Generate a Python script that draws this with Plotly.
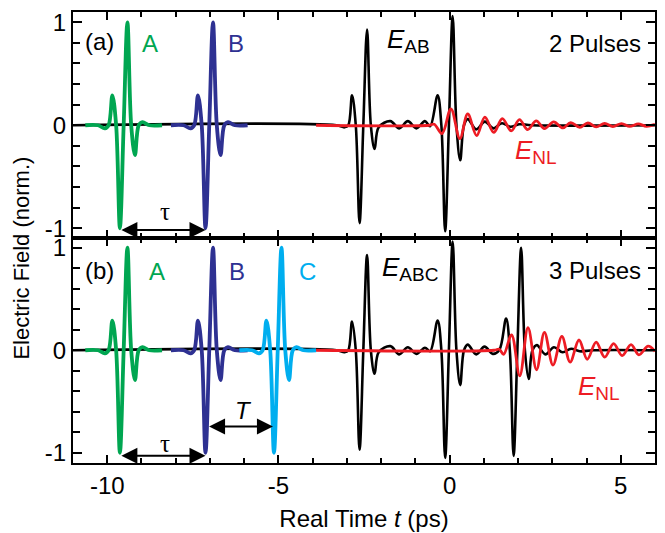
import plotly.graph_objects as go

# ---------------- data ----------------
# single-cycle THz pulse shape: time offsets from pulse centre (ps) and field values
PULSE_DT = [-1.12, -0.75, -0.55, -0.44, -0.33, -0.22, -0.11, 0.0, 0.11, 0.22, 0.33, 0.44, 0.55, 0.75, 1.12]
PULSE_E = [0.0, 0.0, -0.03, 0.0, 0.29, 0.0, -1.0, 0.0, 1.0, 0.0, -0.29, 0.0, 0.03, 0.0, 0.0]
CENTER_A = -9.52
CENTER_B = -7.02
CENTER_C = -5.02

# (a) transmitted field E_AB
EAB_T = [-11.0, -3.3, -3.07, -2.96, -2.85, -2.74, -2.63, -2.52, -2.41, -2.30, -2.19, -2.07,
         -1.73, -1.47, -1.22, -0.97, -0.72, -0.57, -0.35, -0.24, -0.13, -0.02, 0.09, 0.20,
         0.31, 0.42, 0.53, 0.78, 1.03, 1.28, 1.53, 1.78, 2.03, 2.4, 6.0]
EAB_E = [0.0, 0.0, -0.02, 0.0, 0.29, 0.0, -0.95, 0.0, 0.93, 0.0, -0.23, -0.02,
         0.04, -0.03, 0.04, -0.03, 0.04, -0.01, 0.29, 0.0, -1.03, 0.0, 1.06, 0.0,
         -0.34, 0.0, 0.06, -0.04, 0.035, -0.03, 0.02, -0.015, 0.01, 0.0, 0.0]

# (a) nonlinear signal E_NL
ENL2_T = [-3.9, -0.6, -0.45, -0.22, 0.04, 0.30, 0.53, 0.79, 1.03, 1.29, 1.54, 1.80, 2.04, 2.28,
          2.53, 2.77, 3.04, 3.31, 3.54, 3.80, 4.04, 4.28, 4.53, 4.77, 5.02, 5.26, 5.51, 5.75, 6.0]
ENL2_E = [0.0, 0.0, 0.01, -0.08, 0.16, -0.13, 0.11, -0.10, 0.08, -0.07, 0.065, -0.055, 0.055, -0.042,
          0.042, -0.032, 0.032, -0.026, 0.026, -0.02, 0.023, -0.016, 0.019, -0.013, 0.016, -0.011, 0.013, -0.01, 0.008]

# (b) transmitted field E_ABC
EABC_T = [-11.0, -3.3, -3.07, -2.96, -2.85, -2.74, -2.63, -2.52, -2.41, -2.30, -2.19, -2.07,
          -1.73, -1.47, -1.22, -0.97, -0.72, -0.57, -0.35, -0.24, -0.13, -0.02, 0.09, 0.20,
          0.31, 0.42, 0.53, 0.78, 1.02, 1.26, 1.45, 1.65, 1.76, 1.87, 1.98, 2.09, 2.20,
          2.31, 2.42, 2.55, 2.80, 3.05, 3.30, 3.55, 3.80, 4.2, 6.0]
EABC_E = [0.0, 0.0, -0.02, 0.0, 0.28, 0.0, -0.97, 0.0, 0.93, 0.0, -0.23, -0.02,
          0.04, -0.04, 0.03, -0.035, 0.025, -0.01, 0.29, 0.0, -1.05, 0.0, 1.06, 0.0,
          -0.34, 0.0, 0.055, -0.04, 0.035, -0.035, 0.0, 0.31, 0.0, -1.03, 0.0, 1.0, 0.0,
          -0.28, 0.0, 0.05, -0.04, 0.03, -0.02, 0.015, -0.01, 0.0, 0.0]

# (b) nonlinear signal E_NL
ENL3_T = [-3.92, 1.3, 1.45, 1.58, 1.81, 2.05, 2.29, 2.54, 2.77, 3.02, 3.28, 3.52, 3.78, 4.02,
          4.28, 4.53, 4.79, 5.04, 5.30, 5.53, 5.80, 6.0]
ENL3_E = [0.0, 0.0, 0.01, -0.04, 0.15, -0.25, 0.22, -0.19, 0.175, -0.145, 0.135, -0.115, 0.10, -0.088,
          0.08, -0.068, 0.065, -0.052, 0.055, -0.045, 0.04, -0.01]

X_RANGE = [-11, 6]
X_TICKS = [-10, -5, 0, 5]
Y_TICKS = [-1, 0, 1]

# ---------------- styling ----------------
FONT = "Liberation Sans, Arial, Helvetica, sans-serif"
SERIF = "Liberation Serif, Times New Roman, serif"
GREEN = "#00a651"
NAVY = "#2e3192"
CYAN = "#00aeef"
RED = "#ed1c24"
BLACK = "#000000"


def shifted(center):
    return [center + d for d in PULSE_DT]


fig = go.Figure()


def line(x, y, color, width, xa, ya):
    fig.add_trace(go.Scatter(x=x, y=y, mode="lines", xaxis=xa, yaxis=ya,
                             line=dict(color=color, width=width, shape="spline", smoothing=1),
                             showlegend=False, hoverinfo="skip"))


# panel (a)
line(EAB_T, EAB_E, BLACK, 2.6, "x", "y")
line(ENL2_T, ENL2_E, RED, 2.8, "x", "y")
line(shifted(CENTER_A), PULSE_E, GREEN, 3.8, "x", "y")
line(shifted(CENTER_B), PULSE_E, NAVY, 3.8, "x", "y")

# panel (b)
line(EABC_T, EABC_E, BLACK, 2.6, "x2", "y2")
line(ENL3_T, ENL3_E, RED, 2.8, "x2", "y2")
line(shifted(CENTER_A), PULSE_E, GREEN, 3.8, "x2", "y2")
line(shifted(CENTER_B), PULSE_E, NAVY, 3.8, "x2", "y2")
line(shifted(CENTER_C), PULSE_E, CYAN, 3.8, "x2", "y2")

axis_common = dict(
    showgrid=False, zeroline=False, showline=True, linecolor="black", linewidth=2,
    mirror="ticks", ticks="inside", tickcolor="black", tickwidth=1.6, automargin=False,
    tickfont=dict(family=FONT, size=24, color="black"),
)

fig.update_layout(
    width=665, height=533,
    margin=dict(l=73, r=10, t=12, b=70),
    paper_bgcolor="white", plot_bgcolor="white",
    font=dict(family=FONT, color="black"),
    xaxis=dict(axis_common, domain=[0, 1], anchor="y", range=X_RANGE, tickvals=X_TICKS,
               showticklabels=False, ticklen=8,
               minor=dict(dtick=1, ticks="inside", ticklen=5, tickcolor="black", tickwidth=1.6)),
    yaxis=dict(axis_common, domain=[0.5, 1], anchor="x", range=[-1.09, 1.1], tickvals=Y_TICKS,
               ticktext=["-1", "0", "1"], ticklen=9,
               minor=dict(dtick=0.2, tick0=0, ticks="inside", ticklen=7, tickcolor="black", tickwidth=1.6)),
    xaxis2=dict(axis_common, domain=[0, 1], anchor="y2", range=X_RANGE, tickvals=X_TICKS,
                ticktext=["-10", "-5", "0", "5"], ticklen=8,
                minor=dict(dtick=1, ticks="inside", ticklen=5, tickcolor="black", tickwidth=1.6),
                title=dict(text="Real Time <i>t</i> (ps)", font=dict(family=FONT, size=24), standoff=12)),
    yaxis2=dict(axis_common, domain=[0, 0.5], anchor="x2", range=[-1.1, 1.1], tickvals=Y_TICKS,
                ticktext=["-1", "0", "1"], ticklen=9,
                minor=dict(dtick=0.2, tick0=0, ticks="inside", ticklen=7, tickcolor="black", tickwidth=1.6)),
)

ann = []


def text(x, y, s, color="black", size=24, xa="x", ya="y", xanchor="center", yanchor="middle", family=FONT):
    ann.append(dict(x=x, y=y, xref=xa, yref=ya, text=s, showarrow=False,
                    xanchor=xanchor, yanchor=yanchor,
                    font=dict(family=family, size=size, color=color)))


def esub(sub):
    return "<i>E</i><sub><span style='font-size:19px'>" + sub + "</span></sub>"


# panel (a) labels
text(-10.22, 0.81, "(a)")
text(-8.76, 0.79, "A", GREEN)
text(-6.25, 0.79, "B", NAVY)
text(-1.9, 0.82, esub("AB"), size=26, xanchor="left")
text(5.65, 0.79, "2 Pulses", xanchor="right")
text(1.84, -0.25, esub("NL"), RED, size=26, xanchor="left")
text(-8.32, -0.84, "τ", size=25, family=SERIF)

# panel (b) labels
text(-10.22, 0.78, "(b)", xa="x2", ya="y2")
text(-8.56, 0.77, "A", GREEN, xa="x2", ya="y2")
text(-6.20, 0.77, "B", NAVY, xa="x2", ya="y2")
text(-4.15, 0.77, "C", CYAN, xa="x2", ya="y2")
text(-2.04, 0.80, esub("ABC"), size=26, xa="x2", ya="y2", xanchor="left")
text(5.65, 0.78, "3 Pulses", xa="x2", ya="y2", xanchor="right")
text(3.70, -0.36, esub("NL"), RED, size=26, xa="x2", ya="y2", xanchor="left")
text(-8.32, -0.91, "τ", size=25, xa="x2", ya="y2", family=SERIF)
text(-6.03, -0.59, "<i>T</i>", size=24, xa="x2", ya="y2")

# y-axis title spanning both panels
ann.append(dict(x=-0.088, y=0.455, xref="paper", yref="paper", text="Electric Field (norm.)",
                textangle=-90, showarrow=False, xanchor="center", yanchor="middle",
                font=dict(family=FONT, size=22, color="black")))


def arrow(x0, x1, y, xa, ya):
    ann.append(dict(x=x1, y=y, ax=x0, ay=y, xref=xa, yref=ya, axref=xa, ayref=ya,
                    text="", showarrow=True, arrowhead=2, arrowside="end+start",
                    arrowsize=1.6, arrowwidth=2, arrowcolor="black", standoff=0, startstandoff=0))


# tau and T arrows between the main negative lobes of the pulses
arrow(CENTER_A - 0.11, CENTER_B - 0.11, -1.016, "x", "y")
arrow(CENTER_A - 0.11, CENTER_B - 0.11, -1.03, "x2", "y2")
arrow(CENTER_B - 0.05, CENTER_C - 0.14, -0.745, "x2", "y2")

fig.update_layout(annotations=ann)

fig.write_html("out.html", config={"displayModeBar": False},
               post_script="document.body.style.margin='0px';")
